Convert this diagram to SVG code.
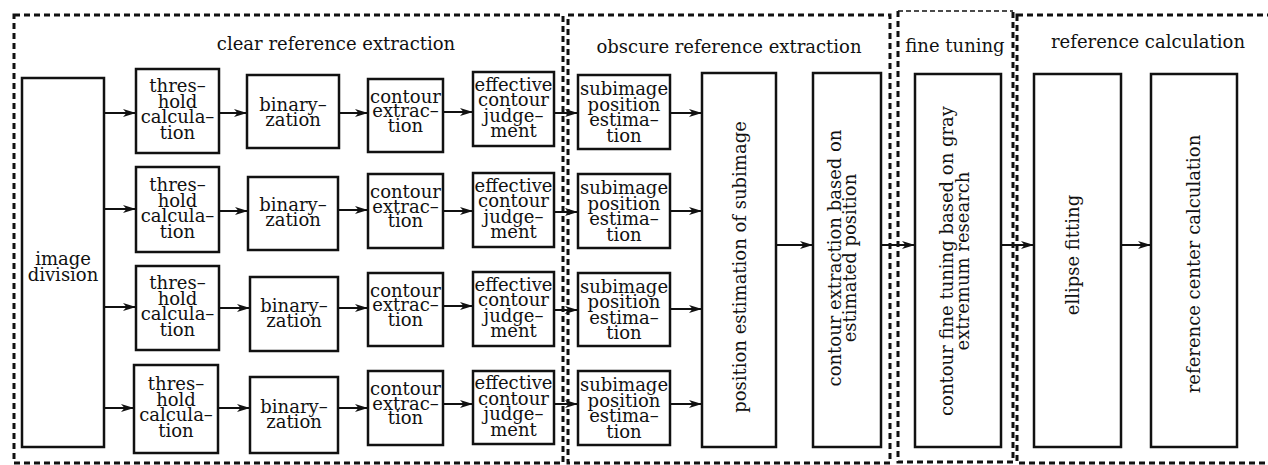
<svg xmlns="http://www.w3.org/2000/svg" width="1268" height="465" viewBox="0 0 1268 465">
<style>
  .sec{fill:none;stroke:#111;stroke-width:3;stroke-dasharray:6 4}
  .secthin{fill:none;stroke:#111;stroke-width:1.5;stroke-dasharray:5 3}
  .box{fill:#fff;stroke:#111;stroke-width:2.5}
  .t{font-family:"DejaVu Serif","Liberation Serif",serif;font-size:18px;fill:#111;text-anchor:middle}
  .ttl{font-family:"DejaVu Serif","Liberation Serif",serif;font-size:18px;fill:#111;text-anchor:middle}
  .ar{fill:none;stroke:#111;stroke-width:2;marker-end:url(#ah)}
</style>
<defs>
  <marker id="ah" markerUnits="userSpaceOnUse" markerWidth="14" markerHeight="10" refX="13" refY="4" orient="auto">
    <path d="M0,0 L13,4 L0,8 L3.5,4 z" fill="#111"/>
  </marker>
</defs>
<rect width="1268" height="465" fill="#fff"/>

<g id="sections">
  <g id="sec-clear">
    <rect class="sec" x="14" y="15" width="549" height="448"/>
    <text class="ttl" x="336" y="50">clear reference extraction</text>
  </g>
  <g id="sec-obscure">
    <rect class="sec" x="568" y="15" width="322" height="448"/>
    <text class="ttl" x="729" y="53">obscure reference extraction</text>
  </g>
  <g id="sec-fine">
    <path class="secthin" d="M898,11 H1013"/>
    <path class="sec" d="M898,11 V462 H1013 V11"/>
    <text class="ttl" x="955" y="52">fine tuning</text>
  </g>
  <g id="sec-calc">
    <rect class="sec" x="1017" y="15" width="270" height="448"/>
    <text class="ttl" x="1148" y="48">reference calculation</text>
  </g>
</g>

<g id="connectors">
  <!-- row 1 -->
  <line class="ar" x1="104" y1="113" x2="136" y2="113"/>
  <line class="ar" x1="219" y1="113" x2="247" y2="113"/>
  <line class="ar" x1="339" y1="113" x2="368" y2="113"/>
  <line class="ar" x1="443" y1="112" x2="473" y2="112"/>
  <line class="ar" x1="554" y1="113" x2="578" y2="113"/>
  <line class="ar" x1="670" y1="113" x2="702" y2="113"/>
  <!-- row 2 -->
  <line class="ar" x1="104" y1="209" x2="136" y2="209"/>
  <line class="ar" x1="219" y1="211" x2="248" y2="211"/>
  <line class="ar" x1="338" y1="210" x2="368" y2="210"/>
  <line class="ar" x1="443" y1="211" x2="473" y2="211"/>
  <line class="ar" x1="554" y1="212" x2="578" y2="212"/>
  <line class="ar" x1="670" y1="211" x2="702" y2="211"/>
  <!-- row 3 -->
  <line class="ar" x1="104" y1="307" x2="136" y2="307"/>
  <line class="ar" x1="219" y1="308" x2="250" y2="308"/>
  <line class="ar" x1="338" y1="308" x2="368" y2="308"/>
  <line class="ar" x1="443" y1="306" x2="473" y2="306"/>
  <line class="ar" x1="554" y1="310" x2="578" y2="310"/>
  <line class="ar" x1="670" y1="309" x2="702" y2="309"/>
  <!-- row 4 -->
  <line class="ar" x1="104" y1="408" x2="134" y2="408"/>
  <line class="ar" x1="218" y1="408" x2="250" y2="408"/>
  <line class="ar" x1="338" y1="408" x2="368" y2="408"/>
  <line class="ar" x1="443" y1="404" x2="473" y2="404"/>
  <line class="ar" x1="554" y1="404" x2="578" y2="404"/>
  <line class="ar" x1="670" y1="404" x2="702" y2="404"/>
  <!-- right chain -->
  <line class="ar" x1="776" y1="245" x2="813" y2="245"/>
  <line class="ar" x1="881" y1="245" x2="915" y2="245"/>
  <line class="ar" x1="1001" y1="245" x2="1034" y2="245"/>
  <line class="ar" x1="1121" y1="245" x2="1151" y2="245"/>
</g>

<g id="image-division">
  <rect class="box" x="22" y="78" width="82" height="369"/>
  <text class="t" x="63" y="265">image<tspan x="63" dy="16">division</tspan></text>
</g>

<!-- Row 1 -->
<g id="thr1"><rect class="box" x="136" y="69" width="83" height="84"/>
  <text class="t" x="177.5" y="92">thres–<tspan x="177.5" dy="15.5">hold</tspan><tspan x="177.5" dy="15.5">calcula–</tspan><tspan x="177.5" dy="15.5">tion</tspan></text></g>
<g id="bin1"><rect class="box" x="247" y="75" width="92" height="73"/>
  <text class="t" x="293" y="111">binary–<tspan x="293" dy="15">zation</tspan></text></g>
<g id="con1"><rect class="box" x="368" y="79" width="75" height="73"/>
  <text class="t" x="405.5" y="102.5">contour<tspan x="405.5" dy="14.5">extrac–</tspan><tspan x="405.5" dy="14.5">tion</tspan></text></g>
<g id="eff1"><rect class="box" x="473" y="72" width="81" height="74"/>
  <text class="t" x="513.5" y="90.5">effective<tspan x="513.5" dy="15.5">contour</tspan><tspan x="513.5" dy="15.5">judge–</tspan><tspan x="513.5" dy="15.5">ment</tspan></text></g>
<g id="sub1"><rect class="box" x="578" y="75" width="92" height="74"/>
  <text class="t" x="624" y="95">subimage<tspan x="624" dy="15.5">position</tspan><tspan x="624" dy="15.5">estima–</tspan><tspan x="624" dy="15.5">tion</tspan></text></g>

<!-- Row 2 -->
<g id="thr2"><rect class="box" x="136" y="167" width="83" height="85"/>
  <text class="t" x="177.5" y="191">thres–<tspan x="177.5" dy="15.5">hold</tspan><tspan x="177.5" dy="15.5">calcula–</tspan><tspan x="177.5" dy="15.5">tion</tspan></text></g>
<g id="bin2"><rect class="box" x="248" y="177" width="90" height="73"/>
  <text class="t" x="293" y="211">binary–<tspan x="293" dy="15">zation</tspan></text></g>
<g id="con2"><rect class="box" x="368" y="174" width="75" height="74"/>
  <text class="t" x="405.5" y="198">contour<tspan x="405.5" dy="14.5">extrac–</tspan><tspan x="405.5" dy="14.5">tion</tspan></text></g>
<g id="eff2"><rect class="box" x="473" y="173" width="81" height="74"/>
  <text class="t" x="513.5" y="191.5">effective<tspan x="513.5" dy="15.5">contour</tspan><tspan x="513.5" dy="15.5">judge–</tspan><tspan x="513.5" dy="15.5">ment</tspan></text></g>
<g id="sub2"><rect class="box" x="578" y="174" width="92" height="74"/>
  <text class="t" x="624" y="194">subimage<tspan x="624" dy="15.5">position</tspan><tspan x="624" dy="15.5">estima–</tspan><tspan x="624" dy="15.5">tion</tspan></text></g>

<!-- Row 3 -->
<g id="thr3"><rect class="box" x="136" y="266" width="83" height="84"/>
  <text class="t" x="177.5" y="289">thres–<tspan x="177.5" dy="15.5">hold</tspan><tspan x="177.5" dy="15.5">calcula–</tspan><tspan x="177.5" dy="15.5">tion</tspan></text></g>
<g id="bin3"><rect class="box" x="250" y="277" width="88" height="74"/>
  <text class="t" x="294" y="312">binary–<tspan x="294" dy="15">zation</tspan></text></g>
<g id="con3"><rect class="box" x="368" y="273" width="75" height="73"/>
  <text class="t" x="405.5" y="296.5">contour<tspan x="405.5" dy="14.5">extrac–</tspan><tspan x="405.5" dy="14.5">tion</tspan></text></g>
<g id="eff3"><rect class="box" x="473" y="272" width="81" height="74"/>
  <text class="t" x="513.5" y="290.5">effective<tspan x="513.5" dy="15.5">contour</tspan><tspan x="513.5" dy="15.5">judge–</tspan><tspan x="513.5" dy="15.5">ment</tspan></text></g>
<g id="sub3"><rect class="box" x="578" y="273" width="92" height="73"/>
  <text class="t" x="624" y="292.5">subimage<tspan x="624" dy="15.5">position</tspan><tspan x="624" dy="15.5">estima–</tspan><tspan x="624" dy="15.5">tion</tspan></text></g>

<!-- Row 4 -->
<g id="thr4"><rect class="box" x="134" y="365" width="84" height="88"/>
  <text class="t" x="176" y="390">thres–<tspan x="176" dy="15.5">hold</tspan><tspan x="176" dy="15.5">calcula–</tspan><tspan x="176" dy="15.5">tion</tspan></text></g>
<g id="bin4"><rect class="box" x="250" y="377" width="88" height="76"/>
  <text class="t" x="294" y="413">binary–<tspan x="294" dy="15">zation</tspan></text></g>
<g id="con4"><rect class="box" x="368" y="371" width="75" height="74"/>
  <text class="t" x="405.5" y="395">contour<tspan x="405.5" dy="14.5">extrac–</tspan><tspan x="405.5" dy="14.5">tion</tspan></text></g>
<g id="eff4"><rect class="box" x="473" y="371" width="81" height="73"/>
  <text class="t" x="513.5" y="389">effective<tspan x="513.5" dy="15.5">contour</tspan><tspan x="513.5" dy="15.5">judge–</tspan><tspan x="513.5" dy="15.5">ment</tspan></text></g>
<g id="sub4"><rect class="box" x="578" y="371" width="92" height="74"/>
  <text class="t" x="624" y="391">subimage<tspan x="624" dy="15.5">position</tspan><tspan x="624" dy="15.5">estima–</tspan><tspan x="624" dy="15.5">tion</tspan></text></g>

<!-- Tall boxes -->
<g id="pos-est"><rect class="box" x="702" y="73" width="74" height="374"/>
  <text class="t" transform="translate(746,267) rotate(-90)" x="0" y="0">position estimation of subimage</text></g>
<g id="contour-est"><rect class="box" x="813" y="73" width="68" height="374"/>
  <text class="t" transform="translate(841,258) rotate(-90)" x="0" y="0">contour extraction based on<tspan x="0" dy="15">estimated position</tspan></text></g>
<g id="fine-tune"><rect class="box" x="915" y="74" width="86" height="373"/>
  <text class="t" transform="translate(953,261) rotate(-90)" x="0" y="0">contour fine tuning based on gray<tspan x="0" dy="15.5">extremum research</tspan></text></g>
<g id="ellipse"><rect class="box" x="1034" y="74" width="87" height="373"/>
  <text class="t" transform="translate(1079,255) rotate(-90)" x="0" y="0">ellipse fitting</text></g>
<g id="ref-center"><rect class="box" x="1151" y="74" width="86" height="373"/>
  <text class="t" transform="translate(1200,264) rotate(-90)" x="0" y="0">reference center calculation</text></g>
</svg>
